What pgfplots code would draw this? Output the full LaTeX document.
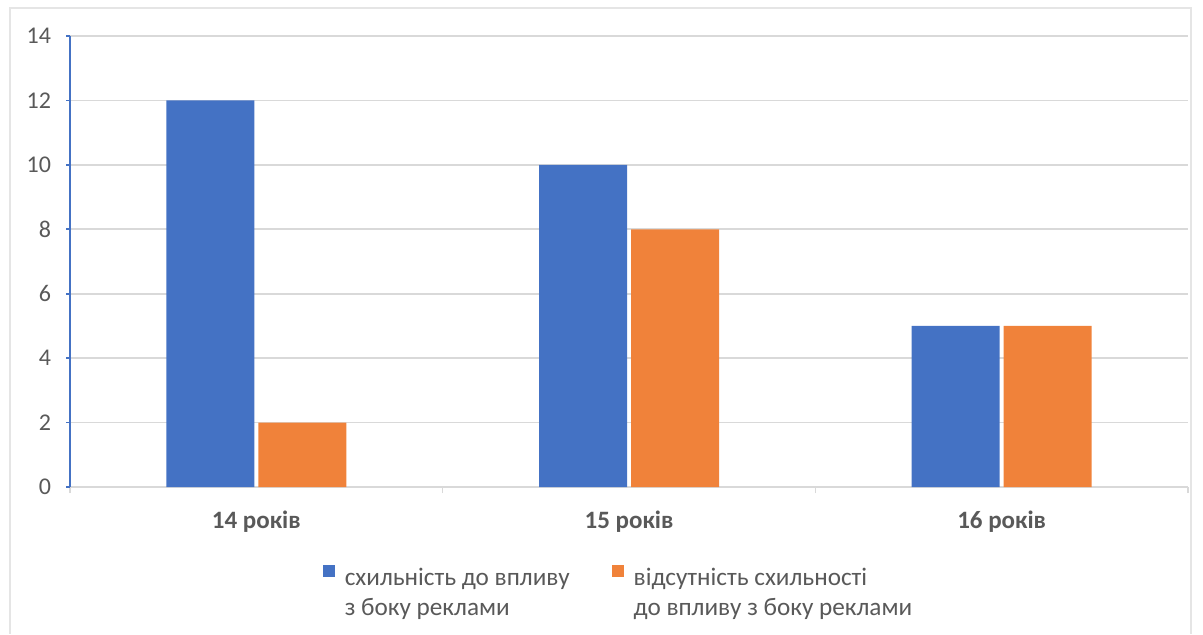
\documentclass[border=0pt]{standalone}
\usepackage{fontspec}
\setmainfont{Carlito}
\usepackage{pgfplots}
\pgfplotsset{compat=1.18}
\definecolor{cblue}{HTML}{4472C4}
\definecolor{corange}{HTML}{F0823A}
\definecolor{cgrid}{HTML}{D9D9D9}
\definecolor{ctext}{HTML}{595959}
\begin{document}
\begin{tikzpicture}
\path[use as bounding box] (0pt,0pt) rectangle (601.5pt,317pt);
\draw[color=black!10, line width=1pt] (5pt,0pt) -- (5pt,313pt) -- (595.5pt,313pt) -- (595.5pt,0pt);
\begin{axis}[
  at={(35pt,73.5pt)}, anchor=south west,
  scale only axis, width=559pt, height=225.5pt,
  ybar=2pt, bar width=44pt,
  xmin=-0.5, xmax=2.5, ymin=0, ymax=14,
  ytick={0,2,...,14},
  xtick={0,1,2},
  xticklabels={14 років,15 років,16 років},
  minor xtick={-0.5,0.5,1.5,2.5},
  axis x line*=bottom, axis y line*=left,
  x axis line style={draw=cgrid, line width=0.8pt, -},
  y axis line style={draw=cblue, line width=0.9pt, -},
  ymajorgrids, grid style={draw=cgrid, line width=0.8pt},
  tick align=outside,
  xtick style={draw=none},
  minor x tick style={draw=cgrid, line width=0.8pt},
  minor tick length=3pt,
  ytick style={draw=cblue, line width=0.9pt},
  major tick length=2pt,
  /pgf/number format/assume math mode=true,
  yticklabel style={font=\fontsize{12}{14}\selectfont, text=ctext, xshift=-4pt},
  xticklabel style={font=\fontsize{12.5}{14}\selectfont\bfseries, text=ctext, yshift=-6.5pt},
  legend style={draw=none, at={(0.4915,-0.235)}, anchor=center, legend columns=2,
    font=\fontsize{12.6}{15}\selectfont, text=ctext,
    cells={align=left, anchor=west},
    nodes={inner xsep=2pt},
    /tikz/every even column/.append style={column sep=19pt}},
  legend image code/.code={\path[#1, draw=none] (0pt,8pt) rectangle (6pt,14pt); \path (9pt,11pt);},
]
\addplot[fill=cblue, draw=none] coordinates {(0,12) (1,10) (2,5)};
\addplot[fill=corange, draw=none] coordinates {(0,2) (1,8) (2,5)};
\legend{{схильність до впливу\\з боку реклами},{відсутність схильності\\до впливу з боку реклами}}
\end{axis}
\end{tikzpicture}
\end{document}
